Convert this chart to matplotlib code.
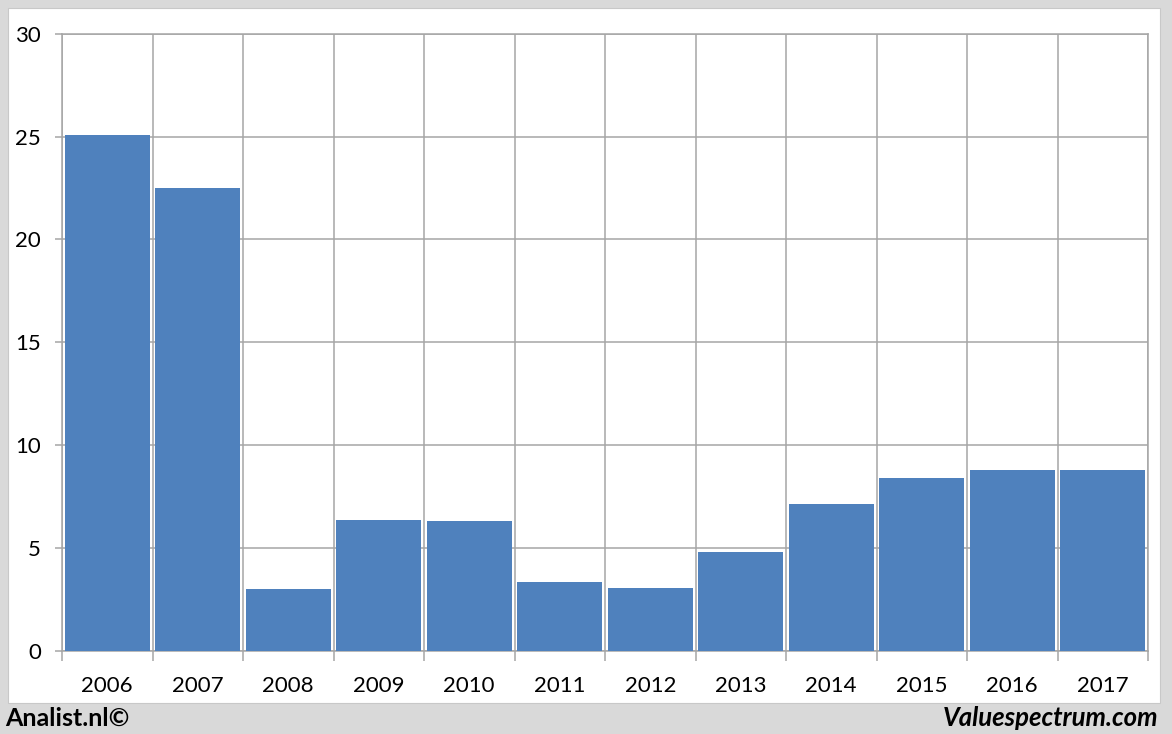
import numpy as np
import matplotlib.pyplot as plt
from matplotlib.patches import Rectangle

years = ['2006', '2007', '2008', '2009', '2010', '2011',
         '2012', '2013', '2014', '2015', '2016', '2017']
values = [25.07, 22.5, 3.01, 6.37, 6.32, 3.35, 3.06, 4.81, 7.14, 8.41, 8.8, 8.8]
y_ticks = [0, 5, 10, 15, 20, 25, 30]

plt.rcParams['font.family'] = ['Lato', 'DejaVu Sans']

fig = plt.figure(figsize=(11.72, 7.34), dpi=100)
fig.patch.set_facecolor('#d9d9d9')
# white panel inside the grey frame
fig.patches.append(Rectangle((8 / 1172, 1 - 703 / 734), (1160 - 8) / 1172, (703 - 8) / 734,
                             transform=fig.transFigure, facecolor='white', edgecolor='#c8c8c8',
                             lw=0.8, zorder=-5))

ax = fig.add_axes([62 / 1172, 1 - 651 / 734, (1148 - 62) / 1172, (651 - 33.7) / 734])
ax.set_facecolor('white')
x = np.arange(len(years))
ax.bar(x, values, width=0.94, color='#4f81bd', zorder=3)

ax.set_xlim(-0.5, len(years) - 0.5)
ax.set_ylim(0, 30)
ax.set_yticks(y_ticks)
ax.set_xticks(x)
ax.set_xticklabels(years)
ax.set_xticks(np.arange(len(years) + 1) - 0.5, minor=True)

ax.grid(axis='y', which='major', color='#a6a6a6', lw=1.1, zorder=1)
ax.grid(axis='x', which='minor', color='#a6a6a6', lw=1.1, zorder=1)
for s in ax.spines.values():
    s.set_color('#a6a6a6')
    s.set_linewidth(1.1)

ax.tick_params(axis='x', which='major', length=0, pad=18, labelsize=16)
ax.tick_params(axis='x', which='minor', length=7, color='#a6a6a6', width=1.1)
ax.tick_params(axis='y', length=5, color='#a6a6a6', width=1.1, pad=10, labelsize=16)

fig.text(5 / 1172, 1 - 718 / 734, 'Analist.nl©', fontsize=18, fontweight='bold',
         ha='left', va='center')
fig.text(1158 / 1172, 1 - 718 / 734, 'Valuespectrum.com', fontsize=18.5, fontweight='bold',
         fontstyle='italic', ha='right', va='center')

fig.savefig('out.png', dpi=100, facecolor=fig.get_facecolor())
